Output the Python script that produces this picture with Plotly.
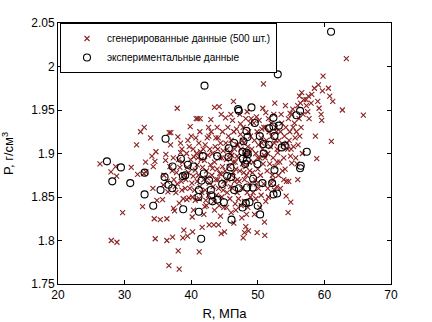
import plotly.graph_objects as go

# Experimental data (circles)
exp_R = [61.0, 53.0, 42.0, 47.05, 47.15, 49.05, 56.35, 55.8, 52.35, 49.55, 53.15, 52.35, 51.7, 48.3,
         48.45, 50.3, 52.5, 47.85, 46.45, 36.15, 50.85, 51.65, 54.05, 53.6, 45.65, 47.7, 48.3, 48.5,
         57.35, 50.9, 43.9, 45.6, 41.75, 27.35, 47.75, 38.45, 48.35, 29.45, 37.2, 56.45, 56.35, 39.5,
         40.35, 45.9, 49.95, 48.1, 52.5, 33.0, 41.9, 38.75, 36.0, 45.4, 46.0, 39.1, 49.3, 42.7, 41.55,
         28.15, 30.85, 44.65, 50.7, 52.15, 36.6, 37.15, 35.4, 42.95, 41.15, 47.15, 46.45, 48.4, 49.25,
         52.9, 52.35, 33.0, 43.0, 41.1, 43.95, 44.9, 43.2, 48.75, 48.2, 34.3, 49.99, 47.7, 38.8, 41.15,
         50.35, 46.05, 41.5]
exp_P = [2.040, 1.991, 1.978, 1.951, 1.949, 1.953, 1.949, 1.944, 1.941, 1.935, 1.932, 1.931, 1.929, 1.926,
         1.919, 1.920, 1.920, 1.914, 1.912, 1.917, 1.911, 1.910, 1.909, 1.907, 1.906, 1.902, 1.901, 1.899,
         1.902, 1.900, 1.897, 1.896, 1.897, 1.891, 1.894, 1.894, 1.892, 1.884, 1.885, 1.886, 1.883, 1.887,
         1.885, 1.884, 1.888, 1.888, 1.881, 1.878, 1.877, 1.874, 1.873, 1.874, 1.873, 1.875, 1.871, 1.869, 1.869,
         1.868, 1.866, 1.865, 1.866, 1.866, 1.864, 1.860, 1.858, 1.858, 1.858, 1.860, 1.858, 1.861, 1.861,
         1.854, 1.853, 1.853, 1.852, 1.850, 1.847, 1.844, 1.845, 1.844, 1.843, 1.840, 1.840, 1.838, 1.836, 1.833,
         1.830, 1.824, 1.802]

# Generated data (500 points, x markers)
gen_R = [26.3, 27.95, 28.65, 28.8, 28.0, 28.85, 29.7,
         31.0, 31.8, 31.95, 32.4, 32.95, 32.7, 33.15, 33.2, 32.9,
         33.9, 34.1, 34.25, 34.45, 34.6, 34.7, 34.55, 34.85, 34.3,
         35.35, 35.7, 36.2, 36.15, 36.35, 36.35, 36.65, 36.7, 36.95, 35.9, 36.4, 36.8, 36.5, 35.8, 36.9,
         37.15, 37.2, 37.35, 37.5, 37.7, 37.9, 38.0, 38.05, 38.2, 38.4, 37.4, 37.6, 37.8, 38.1, 38.3, 38.5,
         38.6, 38.8, 38.9, 38.7, 38.2, 37.9, 38.75, 38.9, 37.3, 38.6, 38.4,
         39.35, 39.45, 39.65, 39.85, 40.0, 40.2, 40.15, 40.35, 40.7, 39.2, 39.4, 39.6, 39.8, 39.9, 40.1,
         40.3, 40.5, 40.6, 40.8, 40.9, 39.3, 39.7, 40.4, 40.2, 39.1, 40.6, 40.9, 39.5, 40.3, 40.75,
         41.15, 41.2, 41.65, 42.05, 42.4, 42.65, 42.7, 41.0, 41.35, 42.95, 41.1, 41.3, 41.5, 41.7, 41.9,
         42.1, 42.3, 42.5, 42.7, 42.9, 41.4, 41.8, 42.2, 42.6, 41.6, 42.0, 42.4, 42.8, 41.2, 42.1, 41.3,
         42.6, 41.9, 42.3, 41.0,
         43.4, 44.05, 44.1, 44.5, 43.5, 44.2, 44.5, 43.1, 43.3, 43.5, 43.7, 43.9, 44.1, 44.3, 44.5, 44.7,
         44.9, 43.2, 43.6, 44.0, 44.4, 44.8, 43.4, 43.8, 44.2, 44.6, 44.9, 43.0, 43.9, 44.7, 43.5, 44.4,
         44.8, 43.2, 44.0, 44.6, 43.7, 44.3,
         45.15, 45.95, 46.35, 45.1, 45.3, 45.5, 45.7, 45.9, 46.1, 46.3, 46.5, 46.7, 46.9, 45.2, 45.6, 46.0,
         46.4, 46.8, 45.4, 45.8, 46.2, 46.6, 46.9, 45.3, 46.0, 46.7, 45.5, 46.2, 46.8, 45.1, 45.9, 46.5,
         46.3, 45.7, 46.6, 45.4, 46.1, 46.95, 45.0, 46.4,
         47.4, 47.8, 48.0, 48.2, 48.6, 47.1, 47.3, 47.5, 47.7, 47.9, 48.1, 48.3, 48.5, 48.7, 48.9, 47.2,
         47.6, 48.0, 48.4, 48.8, 47.4, 47.8, 48.2, 48.6, 48.9, 47.1, 47.5, 48.0, 48.5, 48.9, 47.3, 48.4,
         47.7, 48.7, 47.0, 48.2, 47.9, 48.8, 47.6, 48.3,
         49.9, 51.05, 51.0, 51.2, 50.75, 51.2, 50.85, 49.1, 49.3, 49.5, 49.7, 49.9, 50.1, 50.3, 50.5, 50.7,
         50.9, 49.2, 49.6, 50.0, 50.4, 50.8, 49.4, 49.8, 50.2, 50.6, 49.3, 49.7, 50.1, 50.5, 50.9, 49.5,
         50.3, 49.0, 50.0, 50.6, 49.8, 50.95,
         52.55, 51.3, 51.5, 51.7, 51.9, 52.1, 52.3, 52.5, 52.7, 52.9, 51.4, 51.8, 52.2, 52.6, 52.9, 51.6,
         52.0, 52.4, 52.8, 51.5, 52.0, 52.5, 52.85, 51.2, 52.3, 51.1, 52.7, 51.6,
         54.15, 53.0, 54.1, 54.25, 54.55, 54.95, 54.3, 54.65, 55.1, 54.9, 53.2, 53.4, 53.6, 53.8, 54.0,
         54.2, 54.4, 54.6, 54.8, 53.3, 53.7, 53.9, 54.5, 53.5, 54.85, 53.1, 53.9, 54.7, 53.4,
         55.25, 56.05, 55.35, 55.9, 56.6, 56.25, 55.5, 55.8, 56.2, 56.5, 56.8, 55.6, 56.0, 56.4, 55.3,
         56.7, 55.7, 56.3, 55.1, 55.0, 56.9, 56.0,
         57.25, 57.6, 58.1, 57.7, 58.65, 58.85, 57.3, 58.0, 58.5, 57.5,
         59.8, 59.1, 60.6, 60.8, 59.2, 59.5, 59.6, 61.05, 59.0, 59.7,
         61.25, 62.7, 63.3, 65.85]
gen_P = [1.888, 1.879, 1.885, 1.874, 1.800, 1.798, 1.832,
         1.884, 1.910, 1.876, 1.925, 1.930, 1.839, 1.890, 1.879, 1.877,
         1.918, 1.897, 1.860, 1.825, 1.802, 1.902, 1.891, 1.846, 1.885,
         1.824, 1.847, 1.899, 1.892, 1.825, 1.800, 1.771, 1.924, 1.924, 1.875, 1.868, 1.885, 1.856, 1.864, 1.910,
         1.880, 1.804, 1.837, 1.834, 1.855, 1.952, 1.919, 1.788, 1.767, 1.901, 1.870, 1.862, 1.878, 1.893, 1.884, 1.868,
         1.858, 1.848, 1.875, 1.890, 1.843, 1.865, 1.803, 1.812, 1.895, 1.905, 1.912,
         1.847, 1.805, 1.849, 1.931, 1.920, 1.810, 1.827, 1.835, 1.918, 1.870, 1.884, 1.878, 1.860, 1.893, 1.866,
         1.874, 1.858, 1.881, 1.900, 1.868, 1.900, 1.908, 1.896, 1.850, 1.860, 1.846, 1.887, 1.915, 1.905, 1.940,
         1.912, 1.787, 1.815, 1.839, 1.918, 1.920, 1.818, 1.940, 1.940, 1.939, 1.875, 1.862, 1.893, 1.884, 1.870,
         1.858, 1.880, 1.898, 1.866, 1.887, 1.902, 1.905, 1.846, 1.852, 1.855, 1.892, 1.872, 1.905, 1.848, 1.910, 1.925,
         1.930, 1.830, 1.840, 1.895,
         1.818, 1.918, 1.818, 1.808, 1.953, 1.954, 1.945, 1.875, 1.862, 1.890, 1.870, 1.882, 1.860, 1.895, 1.876, 1.885,
         1.868, 1.900, 1.908, 1.905, 1.912, 1.903, 1.845, 1.852, 1.840, 1.850, 1.838, 1.925, 1.930, 1.925, 1.835, 1.828,
         1.858, 1.883, 1.870, 1.895, 1.918, 1.877,
         1.941, 1.945, 1.960, 1.880, 1.893, 1.870, 1.885, 1.900, 1.875, 1.890, 1.868, 1.882, 1.897, 1.912, 1.920, 1.915,
         1.925, 1.910, 1.855, 1.848, 1.860, 1.842, 1.855, 1.838, 1.832, 1.835, 1.930, 1.938, 1.928, 1.865, 1.862, 1.905,
         1.878, 1.895, 1.890, 1.905, 1.898, 1.870, 1.810, 1.820,
         1.934, 1.803, 1.809, 1.816, 1.811, 1.895, 1.880, 1.905, 1.888, 1.912, 1.898, 1.875, 1.908, 1.890, 1.920, 1.868,
         1.860, 1.870, 1.855, 1.865, 1.922, 1.930, 1.940, 1.925, 1.935, 1.848, 1.840, 1.845, 1.838, 1.850, 1.945, 1.948,
         1.915, 1.900, 1.910, 1.885, 1.878, 1.880, 1.826, 1.830,
         1.809, 1.806, 1.821, 1.845, 1.952, 1.947, 1.980, 1.905, 1.890, 1.915, 1.900, 1.925, 1.910, 1.895, 1.918, 1.905,
         1.930, 1.878, 1.870, 1.882, 1.875, 1.888, 1.935, 1.942, 1.938, 1.928, 1.855, 1.848, 1.860, 1.852, 1.865, 1.830,
         1.838, 1.940, 1.895, 1.912, 1.865, 1.898,
         1.958, 1.915, 1.900, 1.925, 1.908, 1.920, 1.895, 1.912, 1.930, 1.905, 1.880, 1.888, 1.875, 1.885, 1.890, 1.940,
         1.935, 1.945, 1.925, 1.860, 1.865, 1.858, 1.862, 1.930, 1.870, 1.895, 1.915, 1.850,
         1.955, 1.901, 1.882, 1.851, 1.832, 1.844, 1.868, 1.868, 1.889, 1.897, 1.915, 1.925, 1.935, 1.910, 1.920,
         1.930, 1.912, 1.940, 1.925, 1.890, 1.880, 1.895, 1.905, 1.945, 1.946, 1.875, 1.870, 1.915, 1.860,
         1.951, 1.910, 1.908, 1.888, 1.970, 1.966, 1.935, 1.925, 1.940, 1.930, 1.945, 1.918, 1.955, 1.958, 1.930,
         1.900, 1.895, 1.920, 1.945, 1.905, 1.962, 1.870,
         1.962, 1.966, 1.968, 1.940, 1.920, 1.894, 1.955, 1.958, 1.975, 1.948,
         1.989, 1.979, 1.975, 1.966, 1.952, 1.945, 1.938, 1.914, 1.960, 1.972,
         1.960, 1.950, 2.009, 1.944]

x_ticks = [20, 30, 40, 50, 60, 70]
y_ticks = [1.75, 1.8, 1.85, 1.9, 1.95, 2.0, 2.05]
y_tick_text = ["1.75", "1.8", "1.85", "1.9", "1.95", "2", "2.05"]

fig = go.Figure()
fig.add_trace(go.Scatter(
    x=gen_R, y=gen_P, mode="markers", name="сгенерированные данные (500 шт.)",
    marker=dict(symbol="x-thin", size=5, color="rgba(0,0,0,0)",
                line=dict(color="#8b2222", width=1.1))))
fig.add_trace(go.Scatter(
    x=exp_R, y=exp_P, mode="markers", name="экспериментальные данные",
    marker=dict(symbol="circle-open", size=7, color="black", line=dict(width=1.1))))

axis_common = dict(showline=True, linecolor="black", linewidth=1, mirror="ticks",
                   ticks="inside", ticklen=4, tickcolor="black", showgrid=False,
                   zeroline=False, automargin=False,
                   tickfont=dict(family="Liberation Sans, Arial", size=12, color="black"))

fig.update_layout(
    width=432, height=322,
    margin=dict(l=58, r=41, t=23, b=38),
    paper_bgcolor="white", plot_bgcolor="white",
    font=dict(family="Liberation Sans, Arial", size=12, color="black"),
    showlegend=True,
    legend=dict(x=0.006, y=1.0, xanchor="left", yanchor="top",
                bordercolor="black", borderwidth=1, bgcolor="white",
                font=dict(size=10, color="black"), tracegroupgap=0,
                itemwidth=30, indentation=6),
    xaxis=dict(range=[20, 70], tickvals=x_ticks,
               title=dict(text="R, МПа", font=dict(size=13), standoff=7), **axis_common),
    yaxis=dict(range=[1.75, 2.05], tickvals=y_ticks, ticktext=y_tick_text,
               title=dict(text="P, г/см<sup>3</sup>", font=dict(size=13), standoff=14), **axis_common),
)

fig.write_html("out.html", config={"displayModeBar": False},
               post_script="document.body.style.margin='0';")
